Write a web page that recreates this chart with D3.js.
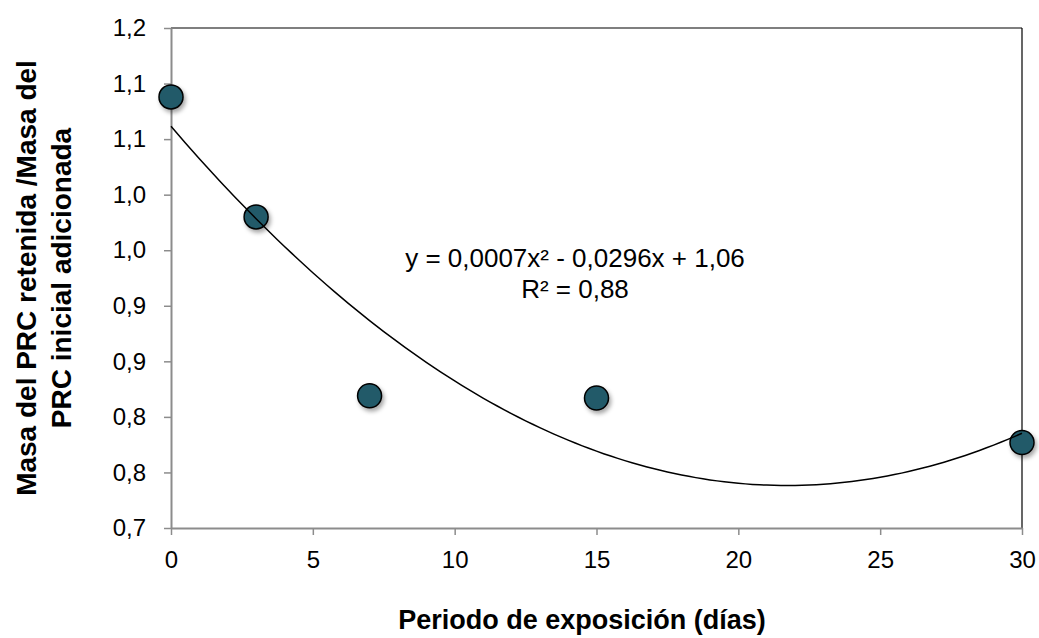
<!DOCTYPE html>
<html>
<head>
<meta charset="utf-8">
<script src="https://cdn.jsdelivr.net/npm/d3@7"></script>
<style>
  body { margin: 0; background: #fff; }
  svg { font-family: "Liberation Sans", Arial, sans-serif; }
</style>
</head>
<body>
<svg id="chart"></svg>
<script>
// measured values
const days = [0, 3, 7, 15, 30];
const ratio = [1.088, 0.980, 0.819, 0.817, 0.777];

const xTicks = [0, 5, 10, 15, 20, 25, 30];
const yTicks = [0.70, 0.75, 0.80, 0.85, 0.90, 0.95, 1.00, 1.05, 1.10, 1.15];
const yTickLabels = ["0,7", "0,8", "0,8", "0,9", "0,9", "1,0", "1,0", "1,1", "1,1", "1,2"];

const equationText = ["y = 0,0007x\u00b2 - 0,0296x + 1,06", "R\u00b2 = 0,88"];
const xTitle = "Periodo de exposición (días)";
const yTitle = ["Masa del PRC retenida /Masa del", "PRC inicial adicionada"];

const width = 1039, height = 638;
const margin = {top: 28, right: 17, bottom: 110, left: 171};

const svg = d3.select('#chart')
    .attr('width', width)
    .attr('height', height);

const defs = svg.append('defs');
const shadow = defs.append('filter')
    .attr('id', 'shadow')
    .attr('x', '-50%').attr('y', '-50%')
    .attr('width', '200%').attr('height', '200%');
shadow.append('feDropShadow')
    .attr('dx', 2).attr('dy', 3)
    .attr('stdDeviation', 2)
    .attr('flood-color', '#000')
    .attr('flood-opacity', 0.35);

const innerW = width - margin.left - margin.right;
const innerH = height - margin.top - margin.bottom;

const chart = svg.append('g')
    .attr('transform', `translate(${margin.left}, ${margin.top})`);

const xscale = d3.scaleLinear().domain([0, 30]).range([0, innerW]);
const yscale = d3.scaleLinear().domain([0.70, 1.15]).range([innerH, 0]);

// frame: top and right black
chart.append('line')
    .attr('x1', 0).attr('x2', innerW).attr('y1', 0).attr('y2', 0)
    .attr('stroke', '#000').attr('stroke-width', 1.2);
chart.append('line')
    .attr('x1', innerW).attr('x2', innerW).attr('y1', 0).attr('y2', innerH)
    .attr('stroke', '#000').attr('stroke-width', 1.2);

const xaxis = d3.axisBottom(xscale)
    .tickValues(xTicks)
    .tickFormat(d3.format('d'))
    .tickSize(7)
    .tickSizeOuter(0)
    .tickPadding(16);

const yaxis = d3.axisLeft(yscale)
    .tickValues(yTicks)
    .tickFormat((d, i) => yTickLabels[i])
    .tickSize(7)
    .tickSizeOuter(0)
    .tickPadding(18);

const xg = chart.append('g')
    .attr('transform', `translate(0, ${innerH})`)
    .call(xaxis);
const yg = chart.append('g').call(yaxis);

[xg, yg].forEach(g => {
    g.select('.domain').attr('stroke', '#8c8c8c').attr('stroke-width', 2);
    g.selectAll('.tick line').attr('stroke', '#8c8c8c').attr('stroke-width', 1.5);
    g.selectAll('.tick text')
        .attr('fill', '#000')
        .attr('font-size', 24)
        .attr('font-family', '"Liberation Sans", Arial, sans-serif');
});

// least squares quadratic trend (same as spreadsheet trendline)
function quadFit(xs, ys) {
    let S = [0, 0, 0, 0, 0], T = [0, 0, 0];
    xs.forEach((x, i) => {
        for (let k = 0; k < 5; k++) S[k] += Math.pow(x, k);
        for (let k = 0; k < 3; k++) T[k] += Math.pow(x, k) * ys[i];
    });
    const M = [
        [S[0], S[1], S[2], T[0]],
        [S[1], S[2], S[3], T[1]],
        [S[2], S[3], S[4], T[2]]
    ];
    for (let c = 0; c < 3; c++) {
        for (let r = c + 1; r < 3; r++) {
            const f = M[r][c] / M[c][c];
            for (let k = c; k < 4; k++) M[r][k] -= f * M[c][k];
        }
    }
    const sol = [0, 0, 0];
    for (let r = 2; r >= 0; r--) {
        let s = M[r][3];
        for (let k = r + 1; k < 3; k++) s -= M[r][k] * sol[k];
        sol[r] = s / M[r][r];
    }
    return sol; // c, b, a
}

const [c0, c1, c2] = quadFit(days, ratio);
const trend = d3.range(0, 30.01, 0.25).map(x => [x, c0 + c1 * x + c2 * x * x]);

// points
chart.selectAll('circle.pt')
    .data(days.map((d, i) => ({x: d, y: ratio[i]})))
    .enter()
    .append('circle')
    .attr('class', 'pt')
    .attr('cx', d => xscale(d.x))
    .attr('cy', d => yscale(d.y))
    .attr('r', 12)
    .attr('fill', '#215a69')
    .attr('stroke', '#000')
    .attr('stroke-width', 1.5)
    .attr('filter', 'url(#shadow)');

chart.append('path')
    .datum(trend)
    .attr('fill', 'none')
    .attr('stroke', '#000')
    .attr('stroke-width', 1.5)
    .attr('d', d3.line().x(d => xscale(d[0])).y(d => yscale(d[1])));

// equation
const eq = svg.append('g');
eq.selectAll('text')
    .data(equationText)
    .enter()
    .append('text')
    .attr('x', 575)
    .attr('y', (d, i) => 267 + i * 31)
    .attr('text-anchor', 'middle')
    .attr('font-size', 26)
    .text(d => d);

// titles
svg.append('text')
    .attr('x', 582)
    .attr('y', 629)
    .attr('text-anchor', 'middle')
    .attr('font-size', 27)
    .attr('font-weight', 'bold')
    .text(xTitle);

svg.append('g')
    .attr('transform', `translate(0, ${margin.top + innerH / 2}) rotate(-90)`)
    .selectAll('text')
    .data(yTitle)
    .enter()
    .append('text')
    .attr('x', 0)
    .attr('y', (d, i) => 36 + i * 35)
    .attr('text-anchor', 'middle')
    .attr('font-size', 28)
    .attr('font-weight', 'bold')
    .text(d => d);
</script>
</body>
</html>
